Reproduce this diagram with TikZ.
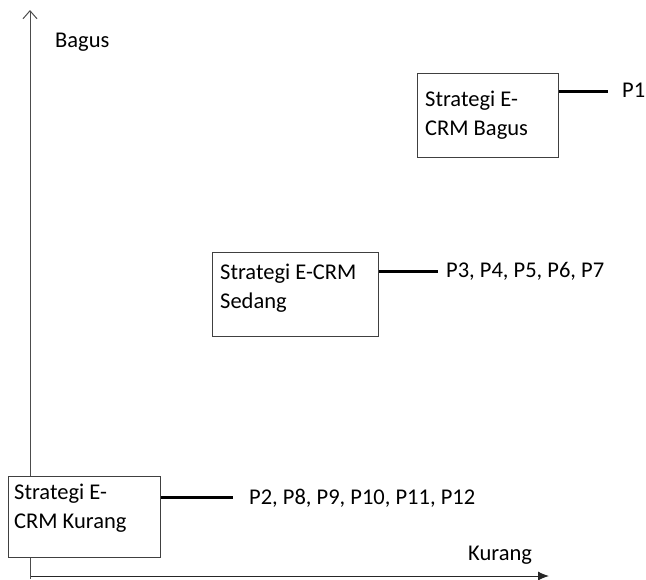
\documentclass[tikz,border=0pt]{standalone}
\usepackage{fontspec}
\setmainfont{Carlito}
\usetikzlibrary{arrows.meta}
\begin{document}
\begin{tikzpicture}[x=1pt,y=-1pt,
  box/.style={draw=black!75, fill=white, line width=1.4pt, minimum width=#1, anchor=north west, inner sep=0pt},
  boxtext/.style={anchor=north west, inner sep=0pt, align=left, font=\fontsize{22.5}{29}\selectfont, text=black},
  lbl/.style={anchor=west, inner sep=0pt, font=\fontsize{22.5}{29}\selectfont, text=black},
  conn/.style={line width=3pt, black},
  axis/.style={line width=1pt, black!70}]
\useasboundingbox (0,0) rectangle (646,579);
% axes
\coordinate (ybot) at (30,579);
\coordinate (ytop) at (30,10);
\coordinate (xl) at (31,576);
\coordinate (xr) at (549,576);
\draw[axis, -{Straight Barb[length=8pt,width=14pt,line width=1pt]}] (ybot) -- (ytop);
\draw[axis, black!85, -{Latex[length=11pt,width=9pt]}] (xl) -- (xr);
\node[lbl] (bagus) at (55,42) {Bagus};
\node[lbl] (kurang) at (468,555) {Kurang};
% boxes
\node[box, minimum width=141pt, minimum height=84pt] (b1) at (417,73) {};
\node[boxtext] (t1) at (425,91) {Strategi E-\\CRM Bagus};
\node[box, minimum width=166pt, minimum height=84pt] (b2) at (212,252) {};
\node[boxtext] (t2) at (220,264) {Strategi E-CRM\\Sedang};
\node[box, minimum width=152pt, minimum height=81pt] (b3) at (8,476) {};
\node[boxtext] (t3) at (14,484) {Strategi E-\\CRM Kurang};
% labels
\node[lbl] (p1) at (622,90) {P1};
\node[lbl] (p2) at (446,271) {P3, P4, P5, P6, P7};
\node[lbl] (p3) at (249,498) {P2, P8, P9, P10, P11, P12};
% connectors
\coordinate (e1) at (608,91);
\coordinate (e2) at (438,271);
\coordinate (e3) at (233,497);
\draw[conn] (b1.east |- e1) -- (e1);
\draw[conn] (b2.east |- e2) -- (e2);
\draw[conn] (b3.east |- e3) -- (e3);
\end{tikzpicture}
\end{document}
